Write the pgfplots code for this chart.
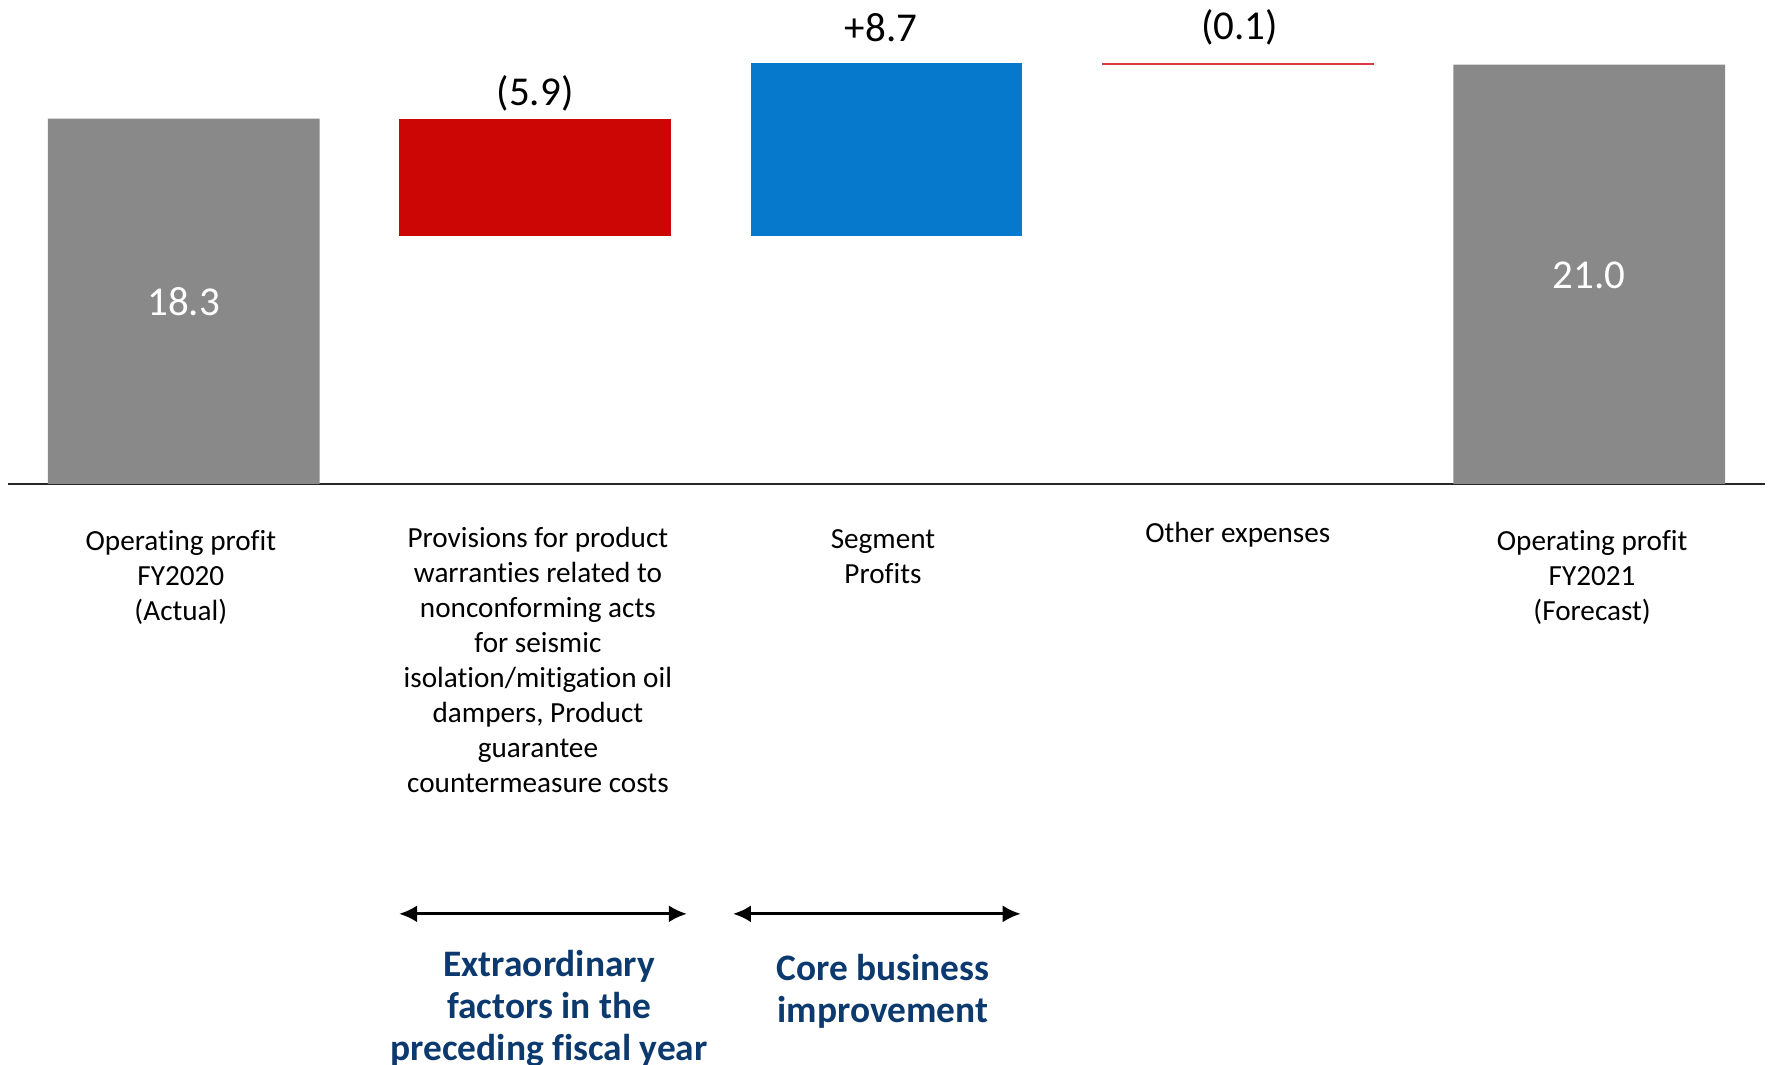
\documentclass[border=0pt]{standalone}
\usepackage{pgfplots}
\pgfplotsset{compat=1.18}
\usepackage{fontspec}
\setmainfont{Carlito}[Ligatures=NoCommon]
\usetikzlibrary{arrows.meta}
\definecolor{bargray}{HTML}{898989}
\definecolor{barred}{HTML}{CC0605}
\definecolor{lined}{HTML}{DA3A3F}
\definecolor{barblue}{HTML}{0779CC}
\definecolor{navy}{HTML}{0D3A6E}
\newcommand{\lines}[1]{\begin{tabular}[t]{@{}c@{}}#1\end{tabular}}
\begin{document}
\begin{tikzpicture}
\useasboundingbox (0,0) rectangle (884.5pt,532.5pt);
\begin{axis}[
  at={(4pt,290.5pt)}, anchor=south west,
  scale only axis, width=878.5pt, height=242pt,
  xmin=-0.5, xmax=4.5, ymin=0, ymax=24.24,
  axis x line*=bottom, axis y line=none,
  x axis line style={-, line width=1.2pt, color=black!85},
  xtick=\empty, ytick=\empty,
  ybar stacked, bar width=0.773,
  clip=false,
]
% invisible base
\addplot[draw=none, fill=none] coordinates {(0,0) (1,12.4) (2,12.4) (3,21.0) (4,0)};
% gray totals
\addplot[draw=none, fill=bargray] coordinates {(0,18.3) (1,0) (2,0) (3,0) (4,21.0)};
% red decrease
\addplot[draw=none, fill=barred] coordinates {(0,0) (1,5.9) (2,0) (3,0) (4,0)};
% blue increase
\addplot[draw=none, fill=barblue] coordinates {(0,0) (1,0) (2,8.7) (3,0) (4,0)};
% small decrease
\addplot[draw=none, fill=lined] coordinates {(0,0) (1,0) (2,0) (3,0.1) (4,0)};
\end{axis}

% value labels
\begin{scope}[every node/.style={font=\fontsize{20.5}{24}\selectfont, anchor=base, inner sep=0pt}]
\node[text=white] at (91.85pt,374.5pt) {18.3};
\node at (267.55pt,479.98pt) {(5.9)};
\node at (440.5pt,511.92pt) {+8.7};
\node at (619.8pt,512.72pt) {(0.1)};
\node[text=white] at (794.65pt,388pt) {21.0};
\end{scope}

% category labels
\begin{scope}[every node/.style={font=\fontsize{14.6}{17.5}\selectfont, anchor=base, inner sep=0pt}]
\node at (90.44pt,257pt) {\lines{Operating profit\\FY2020\\(Actual)}};
\node at (268.96pt,258.5pt) {\lines{Provisions for product\\warranties related to\\nonconforming acts\\for seismic\\isolation/mitigation oil\\dampers, Product\\guarantee\\countermeasure costs}};
\node at (441.49pt,258pt) {\lines{Segment\\Profits}};
\node at (618.9pt,261pt) {\lines{Other expenses}};
\node at (796.06pt,257pt) {\lines{Operating profit\\FY2021\\(Forecast)}};
\end{scope}

% arrows
\draw[{Latex[length=9pt,width=8.5pt]}-{Latex[length=9pt,width=8.5pt]}, line width=1.5pt] (199.55pt,75.57pt) -- (343.45pt,75.57pt);
\draw[{Latex[length=9pt,width=8.5pt]}-{Latex[length=9pt,width=8.5pt]}, line width=1.5pt] (366.47pt,75.57pt) -- (510.37pt,75.57pt);

% group labels
\begin{scope}[every node/.style={font=\fontsize{18.7}{21}\selectfont\bfseries, text=navy, anchor=base, inner sep=0pt}]
\node at (274.58pt,44.02pt) {\lines{Extraordinary\\factors in the\\preceding fiscal year}};
\node at (441.49pt,42.02pt) {\lines{Core business\\improvement}};
\end{scope}
\end{tikzpicture}
\end{document}
